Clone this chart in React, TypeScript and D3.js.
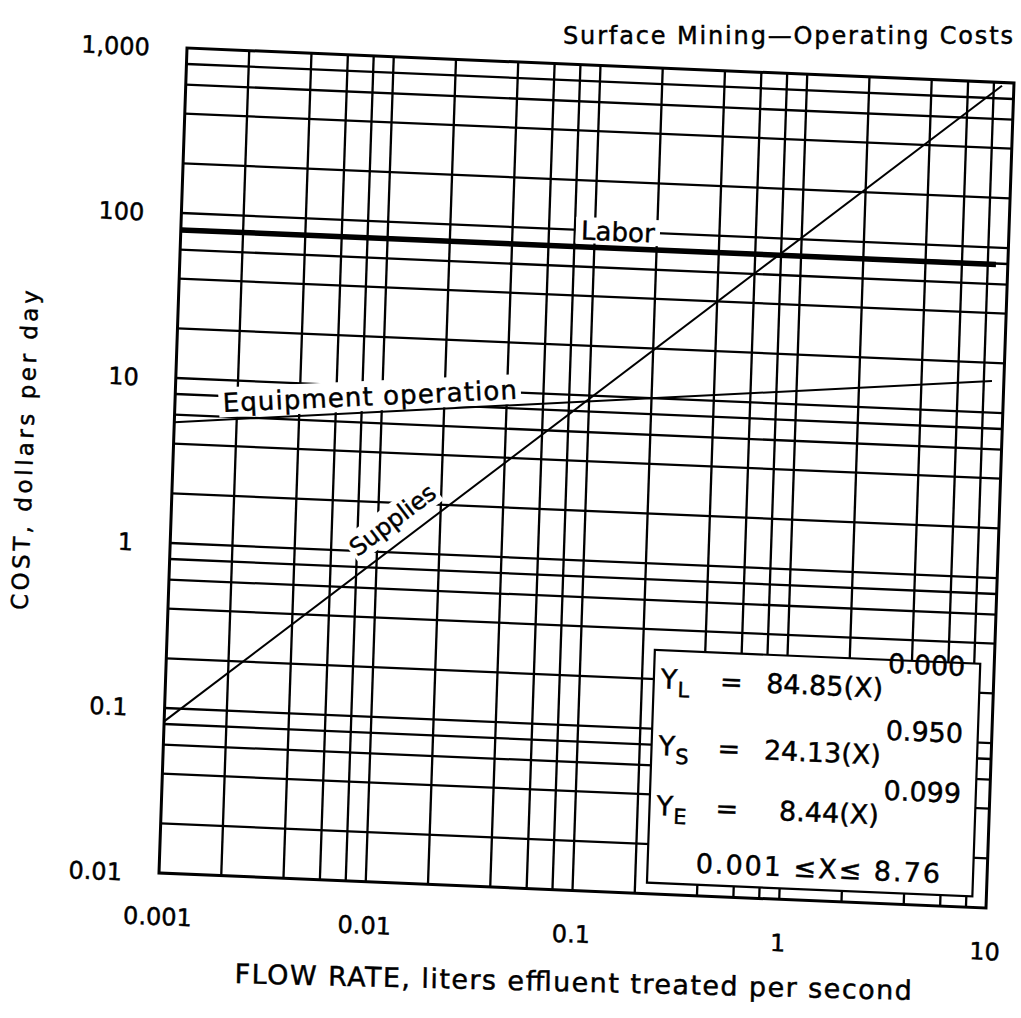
import React from 'react';
import * as d3 from 'd3';

// ---- data ----
const xDecades = [0.001, 0.01, 0.1, 1, 10];
const xTickLabels = ['0.001', '0.01', '0.1', '1', '10'];
const yDecades = [0.01, 0.1, 1, 10, 100, 1000];
const yTickLabels = ['0.01', '0.1', '1', '10', '100', '1,000'];
const minorSteps = [2, 4, 6, 8];

const flowRange = [0.001, 8.76];
const laborCost = [79, 79];
const suppliesCost = [0.083, 955];
const equipmentCost = [5.4, 15.5];

const legendSubs = ['L', 'S', 'E'];
const legendCoefs = ['84.85', '24.13', '8.44'];
const legendExps = ['0.000', '0.950', '0.099'];
const legendRange = '0.001 \u2264X\u2264 8.76';

const titleText = 'Surface Mining\u2014Operating Costs';
const xTitle = 'FLOW RATE, liters effluent treated per second';
const yTitle = 'COST, dollars per day';

const FONT = '"DejaVu Sans", Verdana, sans-serif';

export default function App() {
  const W = 826;
  const H = 826;
  const x = d3.scaleLog().domain([0.001, 10]).range([0, W]);
  const y = d3.scaleLog().domain([0.01, 1000]).range([H, 0]);
  const line = d3
    .line<[number, number]>()
    .x((d) => x(d[0]))
    .y((d) => y(d[1]));
  const series = (vals: number[]) => flowRange.map((f, i) => [f, vals[i]] as [number, number]);

  const xGrid: number[] = [];
  xDecades.slice(0, -1).forEach((d, i) => {
    if (i > 0) xGrid.push(d);
    minorSteps.forEach((m) => xGrid.push(d * m));
  });
  const yGrid: number[] = [];
  yDecades.slice(0, -1).forEach((d, i) => {
    if (i > 0) yGrid.push(d);
    minorSteps.forEach((m) => yGrid.push(d * m));
  });

  // legend box
  const lbX0 = 487;
  const lbX1 = W - 14;
  const lbY0 = 582;
  const lbY1 = H - 11;
  const rowBase = [lbY0 + 38, lbY0 + 105, lbY0 + 165];

  // curve label placements
  const laborLbl = { cx: 436, cy: y(100) };
  const equipLbl = { cx: 194, cy: 340, rot: -5 };
  const suppLbl = { cx: 221, cy: 463, rot: -39.5 };

  const ts = { stroke: '#000', strokeWidth: 0.45 };

  return (
    <svg
      width={1021}
      height={1018}
      style={{ position: 'absolute', left: 0, top: 0, background: '#fff' }}
    >
      <rect x={0} y={0} width={1021} height={1018} fill="#fff" />
      <g transform="matrix(1.0012,0.0424,-0.0339,0.9988,187,48)">
        {/* grid */}
        {xGrid.map((v, i) => (
          <line key={'gx' + i} x1={x(v)} x2={x(v)} y1={0} y2={H} stroke="#000" strokeWidth={2.3} />
        ))}
        {yGrid.map((v, i) => (
          <line key={'gy' + i} x1={0} x2={W} y1={y(v)} y2={y(v)} stroke="#000" strokeWidth={2.3} />
        ))}

        {/* label backgrounds */}
        <rect x={laborLbl.cx - 42} y={laborLbl.cy - 13} width={84} height={26} fill="#fff" />
        <g transform={`translate(${equipLbl.cx},${equipLbl.cy}) rotate(${equipLbl.rot})`}>
          <rect x={-151} y={-15} width={302} height={30} fill="#fff" />
        </g>
        <g transform={`translate(${suppLbl.cx},${suppLbl.cy}) rotate(${suppLbl.rot})`}>
          <rect x={-53} y={-15} width={106} height={30} fill="#fff" />
        </g>

        {/* curves */}
        <path d={line(series(laborCost)) || ''} fill="none" stroke="#000" strokeWidth={5.5} />
        <path d={line(series(equipmentCost)) || ''} fill="none" stroke="#000" strokeWidth={2} />
        <path d={line(series(suppliesCost)) || ''} fill="none" stroke="#000" strokeWidth={2} />

        {/* frame */}
        <rect x={0} y={0} width={W} height={H} fill="none" stroke="#000" strokeWidth={3} />

        {/* curve labels */}
        <text
          x={laborLbl.cx}
          y={laborLbl.cy + 9.5}
          textAnchor="middle"
          fontFamily={FONT}
          fontSize={26}
          {...ts}
        >
          Labor
        </text>
        <g transform={`translate(${equipLbl.cx},${equipLbl.cy}) rotate(${equipLbl.rot})`}>
          <text
            x={0}
            y={9.5}
            textAnchor="middle"
            fontFamily={FONT}
            fontSize={26}
            textLength={294}
            lengthAdjust="spacing"
            {...ts}
          >
            Equipment operation
          </text>
        </g>
        <g transform={`translate(${suppLbl.cx},${suppLbl.cy}) rotate(${suppLbl.rot})`}>
          <text x={0} y={8.5} textAnchor="middle" fontFamily={FONT} fontSize={24} {...ts}>
            Supplies
          </text>
        </g>

        {/* legend box */}
        <rect
          x={lbX0}
          y={lbY0}
          width={lbX1 - lbX0}
          height={lbY1 - lbY0}
          fill="#fff"
          stroke="#000"
          strokeWidth={2.2}
        />
        {legendSubs.map((s, i) => (
          <g key={'lg' + i} fontFamily={FONT} {...ts}>
            <text x={lbX0 + 7} y={rowBase[i]} fontSize={27}>
              Y
            </text>
            <text x={lbX0 + 24} y={rowBase[i] + 8} fontSize={21}>
              {s}
            </text>
            <text x={lbX0 + 66} y={rowBase[i]} fontSize={27}>
              =
            </text>
            <text x={lbX0 + 229} y={rowBase[i]} fontSize={27} textAnchor="end">
              {legendCoefs[i] + '(X)'}
            </text>
            <text x={lbX0 + 233} y={rowBase[i] - 25} fontSize={27}>
              {legendExps[i]}
            </text>
          </g>
        ))}
        <text
          x={lbX0 + 48}
          y={lbY0 + 221}
          fontFamily={FONT}
          fontSize={27}
          textLength={244}
          lengthAdjust="spacing"
          {...ts}
        >
          {legendRange}
        </text>

        {/* tick labels */}
        {xDecades.map((v, i) => (
          <text
            key={'xt' + i}
            x={x(v)}
            y={H + 52}
            textAnchor="middle"
            fontFamily={FONT}
            fontSize={24}
            {...ts}
          >
            {xTickLabels[i]}
          </text>
        ))}
        {yDecades.map((v, i) => (
          <text
            key={'yt' + i}
            x={-37}
            y={y(v) + 9}
            textAnchor="end"
            fontFamily={FONT}
            fontSize={24}
            {...ts}
          >
            {yTickLabels[i]}
          </text>
        ))}

        {/* axis titles */}
        <text
          x={417}
          y={927}
          textAnchor="middle"
          fontFamily={FONT}
          fontSize={27}
          textLength={676}
          lengthAdjust="spacing"
          transform="rotate(-1,417,927)"
          {...ts}
        >
          {xTitle}
        </text>
        <text
          transform="translate(-140,409) rotate(-90)"
          x={0}
          y={0}
          textAnchor="middle"
          fontFamily={FONT}
          fontSize={23}
          textLength={320}
          lengthAdjust="spacing"
          {...ts}
        >
          {yTitle}
        </text>
      </g>

      {/* title (not skewed in the scan) */}
      <text
        x={1013}
        y={44}
        textAnchor="end"
        fontFamily={FONT}
        fontSize={24}
        textLength={450}
        lengthAdjust="spacing"
        {...ts}
      >
        {titleText}
      </text>
    </svg>
  );
}
